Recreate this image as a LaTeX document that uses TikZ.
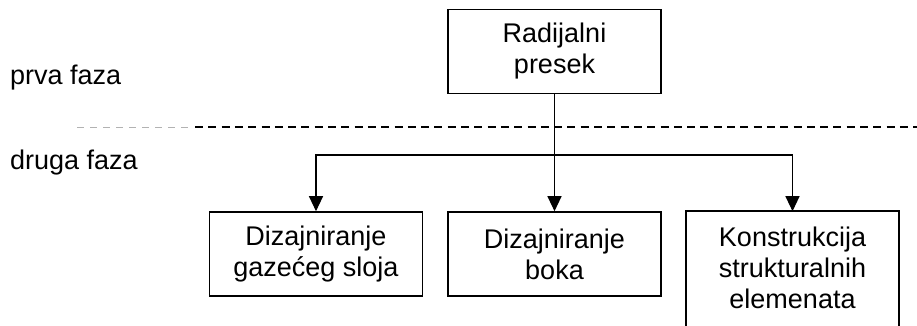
\documentclass[tikz,border=0pt]{standalone}
\usepackage{fontspec}
\setmainfont{Liberation Sans}
\usetikzlibrary{arrows.meta}

\begin{document}
\begin{tikzpicture}[
  x=1pt,y=-1pt,
  every node/.style={font=\fontsize{27}{31}\selectfont},
  stage/.style={draw,line width=1.6pt,minimum width=213pt,minimum height=84pt,
    inner sep=0pt,align=center},
  phase/.style={anchor=west,inner sep=0pt},
  link/.style={line width=1.2pt,-{Triangle[length=15pt,width=14pt]}}
]
  \useasboundingbox (0,0) rectangle (917,325);
  \node[phase] (prva) at (10,78) {prva faza};
  \node[phase] (druga) at (10,163) {druga faza};
  \draw[gray!60,line width=0.8pt,dash pattern=on 7pt off 6pt] (77,127) -- (192,127);
  \draw[line width=1.3pt,dash pattern=on 8pt off 5.3pt] (195,127) -- (917,127);

  \node[stage] (radial) at (554.5,51.5) {Radijalni\\presek};
  \node[stage] (gazeci) at (316,254) {Dizajniranje\\gazećeg sloja};
  \node[stage] (boka) at (554.5,254) {Dizajniranje\\boka};
  \node[stage,draw=none,minimum width=211pt,minimum height=112pt] (konstr) at (792.5,268)
    {Konstrukcija\\strukturalnih\\elemenata};
  \draw[line width=1.6pt] (konstr.north west) rectangle ([yshift=-14pt]konstr.south east);

  \coordinate (split) at (554.5,155);
  \draw[link] (radial) -- (boka);
  \draw[link] (split) -| (gazeci);
  \draw[link] (split) -| (konstr);
\end{tikzpicture}
\end{document}
